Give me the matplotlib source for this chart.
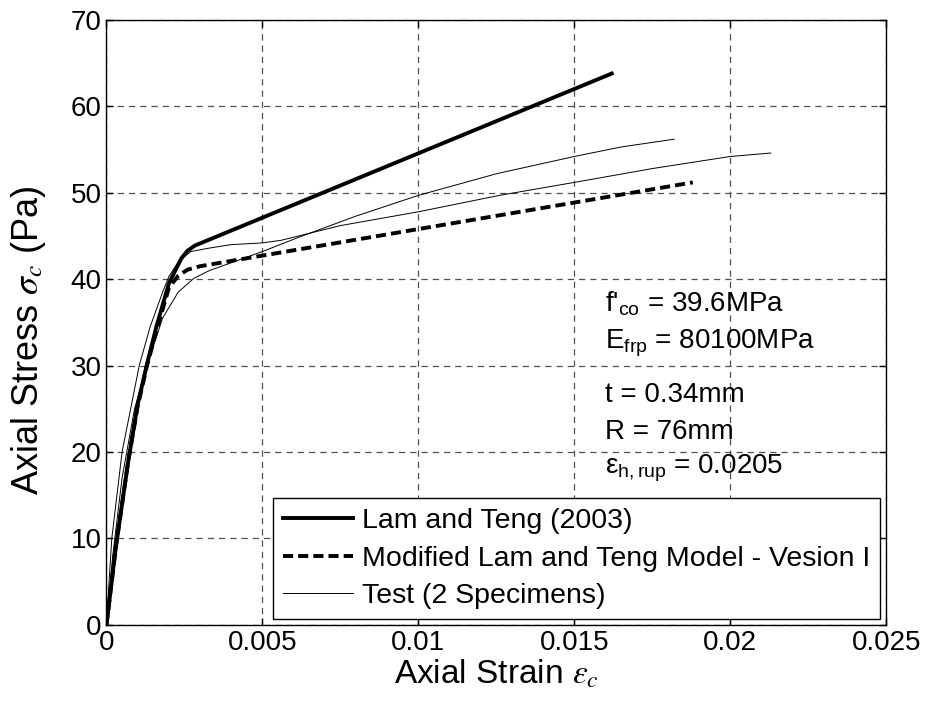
import matplotlib
matplotlib.use("Agg")
import matplotlib.pyplot as plt

plt.rcParams['font.family'] = ['Liberation Sans', 'DejaVu Sans']
plt.rcParams['mathtext.fontset'] = 'custom'
plt.rcParams['mathtext.rm'] = 'Liberation Sans'
plt.rcParams['mathtext.it'] = 'Liberation Sans:italic'

# Lam and Teng (2003) model
lt_strain = [0, 0.0003, 0.0007, 0.001, 0.0013, 0.0016, 0.002, 0.0024, 0.0026, 0.00284, 0.0162]
lt_stress = [0, 9.0, 19.0, 25.5, 30.2, 34.5, 39.5, 42.4, 43.3, 43.9, 63.8]

# Modified Lam and Teng model - version I
mod_strain = [0, 0.0003, 0.0007, 0.001, 0.0013, 0.0016, 0.002, 0.0023, 0.0026, 0.003, 0.0188]
mod_stress = [0, 9.0, 19.0, 25.3, 30.0, 34.0, 39.0, 40.4, 41.1, 41.5, 51.2]

# test specimen 1
a_strain = [0, 0.0001, 0.0002, 0.0005, 0.0009, 0.0013, 0.0018, 0.0023, 0.0028, 0.0033,
            0.004, 0.005, 0.0062, 0.008, 0.01, 0.0125, 0.015, 0.0165, 0.0182]
a_stress = [0, 4, 8, 17, 25, 30, 35.5, 38.5, 40.1, 41.0,
            41.9, 43.2, 44.9, 47.3, 49.7, 52.2, 54.2, 55.3, 56.2]

# test specimen 2
b_strain = [0, 0.0001, 0.00017, 0.0005, 0.00105, 0.0014, 0.0018, 0.002, 0.0023, 0.0027,
            0.0033, 0.004, 0.005, 0.0056, 0.0075, 0.01, 0.0126, 0.015, 0.0175, 0.02, 0.0213]
b_stress = [0, 6, 10, 20, 30, 34.5, 38.5, 40.3, 42.0, 43.2,
            43.6, 44.0, 44.2, 44.5, 46.2, 47.8, 49.7, 51.2, 52.8, 54.2, 54.6]

x_ticks = [0, 0.005, 0.01, 0.015, 0.02, 0.025]
x_labels = ['0', '0.005', '0.01', '0.015', '0.02', '0.025']
y_ticks = [0, 10, 20, 30, 40, 50, 60, 70]

notes = [(37.2, r"f$'_{\mathrm{co}}$ = 39.6MPa"),
         (32.6, r"E$_{\mathrm{frp}}$ = 80100MPa"),
         (26.6, "t = 0.34mm"),
         (22.3, "R = 76mm"),
         (18.1, r"ε$_{\mathrm{h,rup}}$ = 0.0205")]

fig = plt.figure(figsize=(9.26, 7.13), dpi=100)
ax = fig.add_axes([0.115, 0.1237, 0.842, 0.8483])

ax.plot(lt_strain, lt_stress, color='black', lw=2.8, label='Lam and Teng (2003)')
ax.plot(mod_strain, mod_stress, color='black', lw=2.8, linestyle=(0, (2.6, 1.3)),
        label='Modified Lam and Teng Model - Vesion I')
ax.plot(a_strain, a_stress, color='black', lw=0.7, label='Test (2 Specimens)')
ax.plot(b_strain, b_stress, color='black', lw=0.7)

ax.set_xlim(0, 0.025)
ax.set_ylim(0, 70)
ax.set_xticks(x_ticks)
ax.set_xticklabels(x_labels)
ax.set_yticks(y_ticks)
ax.tick_params(direction='in', top=True, right=True, labelsize=20, length=5, width=1)
ax.grid(True, color='#505050', linestyle=(0, (5, 4)), linewidth=0.9)
for s in ax.spines.values():
    s.set_linewidth(1.0)

ax.set_xlabel(r"Axial Strain $\varepsilon_c$", fontsize=24, labelpad=2, math_fontfamily='stix')
ax.set_ylabel(r"Axial Stress $\sigma_c$ (Pa)", fontsize=26, math_fontfamily='stix')
ax.yaxis.set_label_coords(-0.075, 0.47)

for y, txt in notes:
    ax.text(0.0160, y, txt, fontsize=20, va='center', ha='left')

leg = ax.legend(loc='lower right', fontsize=20.5, frameon=True, fancybox=False,
                edgecolor='black', framealpha=1, borderaxespad=0.2,
                handlelength=2.45, handletextpad=0.33, labelspacing=0.4, borderpad=0.35)
leg.get_frame().set_linewidth(1.0)

fig.savefig('out.png', dpi=100)
